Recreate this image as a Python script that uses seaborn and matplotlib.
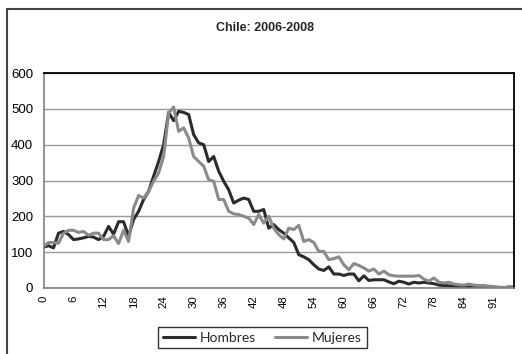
import numpy as np
import pandas as pd
import matplotlib
matplotlib.use("Agg")
import matplotlib.pyplot as plt
from matplotlib.patches import Rectangle
import seaborn as sns

# Edades (una edad sin registro antes de 91)
edades = list(range(0, 89)) + list(range(90, 96))

hombres = [114, 118, 112, 153, 158, 149, 135, 137, 140, 144,
           142, 135, 144, 172, 150, 185, 185, 145, 191, 214,
           247, 270, 312, 353, 400, 490, 467, 493, 490, 484,
           428, 405, 400, 353, 367, 326, 298, 274, 237, 245,
           251, 247, 214, 214, 219, 167, 177, 163, 153, 140,
           127, 93, 87, 79, 65, 53, 49, 59, 39, 39,
           35, 39, 39, 20, 34, 21, 23, 23, 23, 17,
           12, 19, 16, 11, 16, 14, 16, 14, 12, 8,
           7, 6, 5, 5, 4, 4, 4, 3, 3, 2,
           2, 1, 1, 3, 2]

mujeres = [116, 127, 127, 125, 153, 161, 161, 155, 158, 147,
           153, 153, 135, 135, 146, 124, 161, 130, 223, 258,
           251, 270, 298, 321, 367, 488, 505, 437, 447, 419,
           367, 353, 340, 302, 298, 247, 247, 214, 207, 205,
           200, 195, 177, 205, 181, 200, 167, 149, 137, 167,
           163, 175, 130, 135, 127, 102, 102, 79, 82, 87,
           65, 51, 68, 63, 56, 47, 53, 39, 47, 37,
           34, 33, 33, 33, 33, 35, 25, 19, 28, 16,
           14, 16, 11, 9, 8, 11, 8, 7, 7, 5,
           4, 2, 2, 1, 1]

series = ["Hombres", "Mujeres"]
colores = {"Hombres": "#2b2b2b", "Mujeres": "#8a8a8a"}
titulo = "Chile: 2006-2008"

pos = np.arange(len(edades))
df = pd.DataFrame({
    "pos": np.concatenate([pos, pos]),
    "valor": hombres + mujeres,
    "sexo": ["Hombres"] * len(pos) + ["Mujeres"] * len(pos),
})

sns.set_style("white")
plt.rcParams["font.family"] = ["Liberation Sans", "DejaVu Sans"]

W, H = 522, 354
fig = plt.figure(figsize=(W / 100, H / 100), dpi=100)
ax = fig.add_axes([43.5 / W, (H - 288) / H, (514 - 43.5) / W, (288 - 73) / H])

sns.lineplot(data=df, x="pos", y="valor", hue="sexo", hue_order=series,
             palette=colores, linewidth=2.2, ax=ax)

handles, labels = ax.get_legend_handles_labels()
ax.get_legend().remove()

ax.set_xlim(0, len(edades) - 1)
ax.set_ylim(0, 600)
ax.set_yticks(range(0, 601, 100))
ax.set_yticklabels([str(v) for v in range(0, 601, 100)], fontsize=9.5)
ticks = list(range(0, len(edades), 6))
ax.set_xticks(ticks)
ax.set_xticklabels([str(edades[i]) for i in ticks], rotation=90, fontsize=8.2)
ax.set_xlabel("")
ax.set_ylabel("")

ax.grid(axis="y", color="#9a9a9a", linewidth=1.0)
ax.grid(axis="x", visible=False)
ax.set_axisbelow(True)

for s in ["top", "right"]:
    ax.spines[s].set_color("#000000")
    ax.spines[s].set_linewidth(1.3)
for s in ["left", "bottom"]:
    ax.spines[s].set_color("#808080")
    ax.spines[s].set_linewidth(1.2)

ax.tick_params(axis="both", which="major", direction="out", length=3.5,
               width=1, color="#808080", pad=2, labelcolor="#000000")
ax.tick_params(axis="y", pad=4)

fig.text(265 / W, 1 - 28 / H, titulo, ha="center", va="center",
         fontsize=9, fontweight="bold")

leg = fig.legend(handles, labels, loc="center", bbox_to_anchor=(262.5 / W, 1 - 337.5 / H),
                 ncol=2, frameon=True, fancybox=False, edgecolor="#000000",
                 prop={"family": ["Lato", "DejaVu Sans"], "size": 10},
                 handlelength=2.3, handletextpad=0.35, columnspacing=1.4,
                 borderpad=0.35, borderaxespad=0)
leg.get_frame().set_linewidth(1.0)
for ln in leg.get_lines():
    ln.set_linewidth(2.2)

# Marco exterior del gráfico
fig.patches.append(Rectangle((7 / W, -0.05), 1.1, 1 - 9 / H + 0.05,
                             transform=fig.transFigure, fill=False,
                             edgecolor="#444444", linewidth=1.5))

fig.savefig("out.png", dpi=100)
